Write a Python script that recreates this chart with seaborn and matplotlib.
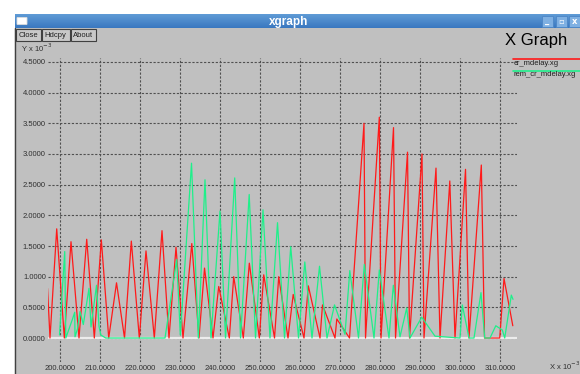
import numpy as np
import pandas as pd
import matplotlib
matplotlib.use("Agg")
import matplotlib.pyplot as plt
from matplotlib.patches import Rectangle, FancyBboxPatch
import seaborn as sns

# ---- data (x in units of 10^-3 s, y in units of 10^-3) ----
red_x = [196.88, 197.5, 199.18, 201.08, 202.75, 204.75, 206.68, 208.58, 210.33, 212.18,
         214.13, 216.13, 217.83, 219.83, 221.5, 223.58, 225.5, 227.25, 229.0, 230.75,
         232.95, 234.75, 236.13, 238.25, 239.68, 242.33, 243.43, 245.83, 247.33, 249.83,
         250.93, 253.63, 254.68, 257.0, 258.3, 261.0, 262.08, 265.0, 265.63, 268.75,
         269.2, 272.38, 276.0, 276.38, 279.83, 280.25, 283.38, 283.88, 286.88, 287.38,
         290.5, 291.0, 294.0, 295.0, 297.45, 298.75, 301.38, 302.25, 305.33, 306.13,
         309.93, 311.0, 313.2]
red_y = [0.81, 0.0, 1.78, 0.0, 1.57, 0.0, 1.61, 0.0, 1.60, 0.0,
         0.90, 0.0, 1.58, 0.0, 1.42, 0.0, 1.75, 0.0, 1.48, 0.0,
         1.54, 0.0, 1.14, 0.0, 0.84, 0.0, 1.00, 0.0, 1.22, 0.0,
         1.03, 0.0, 1.00, 0.0, 0.71, 0.0, 0.85, 0.0, 0.54, 0.0,
         0.31, 0.0, 3.50, 0.0, 3.60, 0.0, 3.43, 0.0, 3.03, 0.0,
         3.00, 0.0, 2.77, 0.0, 2.56, 0.0, 2.75, 0.0, 2.82, 0.0,
         0.0, 0.97, 0.20]

green_x = [199.88, 201.18, 201.45, 203.08, 203.68, 203.75, 204.38, 205.0, 205.83, 207.25,
           207.75, 209.13, 209.75, 210.2, 211.43, 226.25, 229.18, 230.08, 232.88, 234.58,
           236.25, 237.75, 240.0, 241.38, 243.68, 245.13, 247.3, 248.88, 250.75, 252.5,
           254.38, 256.13, 257.68, 259.63, 261.2, 263.0, 264.88, 266.75, 268.63, 271.25,
           272.45, 274.63, 276.08, 278.5, 279.83, 282.25, 283.33, 285.0, 286.68, 287.5,
           290.43, 293.75, 300.0, 300.58, 302.25, 303.5, 305.25, 306.18, 307.5, 308.95,
           310.58, 311.18, 312.83, 313.25]
green_y = [0.05, 1.41, 0.0, 0.30, 0.42, 0.02, 0.15, 0.43, 0.22, 0.81,
           0.18, 0.86, 0.19, 0.05, 0.0, 0.0, 1.28, 0.05, 2.85, 0.0,
           2.58, 0.0, 2.07, 0.0, 2.61, 0.0, 2.34, 0.0, 2.09, 0.0,
           1.88, 0.0, 1.49, 0.0, 1.24, 0.0, 1.17, 0.0, 0.54, 0.06,
           1.10, 0.0, 1.20, 0.0, 1.11, 0.0, 0.86, 0.02, 0.49, 0.0,
           0.34, 0.03, 0.0, 0.54, 0.0, 0.0, 0.74, 0.0, 0.0, 0.20,
           0.13, 0.0, 0.70, 0.63]

series_names = ["cr_mdelay.xg", "rem_cr_mdelay.xg"]
series_colors = ["#ff1a1a", "#1ef08a"]
x_ticks = [200, 210, 220, 230, 240, 250, 260, 270, 280, 290, 300, 310]
y_ticks = [0.0, 0.5, 1.0, 1.5, 2.0, 2.5, 3.0, 3.5, 4.0, 4.5]

df = pd.concat([
    pd.DataFrame({"x": red_x, "y": red_y, "file": series_names[0]}),
    pd.DataFrame({"x": green_x, "y": green_y, "file": series_names[1]}),
], ignore_index=True)

sns.set_style("white")
plt.rcParams["font.family"] = ["Liberation Sans", "DejaVu Sans"]

W, H = 580, 374
fig = plt.figure(figsize=(W / 100, H / 100), dpi=100)
BG = "#c0c0c0"

# ---- window chrome, drawn in pixel coordinates ----
chrome = fig.add_axes([0, 0, 1, 1], zorder=0)
chrome.set_xlim(0, W)
chrome.set_ylim(H, 0)
chrome.axis("off")
chrome.add_patch(Rectangle((0, 0), W, H, color="white", zorder=0))
chrome.add_patch(Rectangle((15, 28), W - 15, H - 28, color=BG, zorder=1))
chrome.plot([14.5, 14.5], [28, H], color="#404040", lw=1, zorder=2)

# title bar gradient
grad = np.linspace(0, 1, 30).reshape(-1, 1)
chrome.imshow(grad, extent=(15, W, 28, 14), cmap=matplotlib.colors.LinearSegmentedColormap.from_list(
    "tb", ["#5f9bd6", "#3a78c0"]), aspect="auto", zorder=2)
chrome.add_patch(FancyBboxPatch((17.5, 18), 9, 6, boxstyle="round,pad=0.5",
                                fc="white", ec="#dddddd", lw=0.6, zorder=3))
chrome.text(289, 21.5, "xgraph", color="white", fontsize=8.5, fontweight="bold",
            ha="center", va="center", zorder=3)
for bx, glyph in zip([542, 556, 569], ["_", "▫", "x"]):
    chrome.add_patch(Rectangle((bx, 16), 11, 11, fc="#7fb0e2", ec="#4d86c6", lw=0.6, zorder=3))
    chrome.text(bx + 5.5, 21.5, glyph, color="white", fontsize=6, fontweight="bold",
                ha="center", va="center", zorder=4, family=["DejaVu Sans"])

# buttons
for (bx0, bx1), label in zip([(15.5, 40.5), (42, 69.5), (71, 96)], ["Close", "Hdcpy", "About"]):
    chrome.add_patch(Rectangle((bx0, 29), bx1 - bx0, 11.5, fc="#c8c8c8", ec="#404040", lw=0.8, zorder=3))
    chrome.text((bx0 + bx1) / 2, 35, label, fontsize=5.5, ha="center", va="center",
                color="#202020", zorder=4)

chrome.text(505, 40, "X Graph", fontsize=12, ha="left", va="center", color="black", zorder=3)
chrome.text(21, 47.5, r"Y x 10$^{-3}$", fontsize=5.5, ha="left", va="center", color="#303030", zorder=3)
chrome.text(549, 366, r"X x 10$^{-3}$", fontsize=5.5, ha="left", va="center", color="#303030", zorder=3)

# legend: sample lines plus names, drawn above the plot grid
for yl, yt, name, col in zip([58.5, 70.5], [63.5, 74.5], series_names, series_colors):
    chrome.plot([513, W], [yl, yl], color=col, lw=1.2, zorder=3)
    fig.text(514 / W, 1 - yt / H, name, fontsize=5.5, ha="left", va="center",
             color="#202020", zorder=5)

# ---- plot area ----
left, right, top, bottom = 48, 517, 58, 362
ax = fig.add_axes([left / W, 1 - bottom / H, (right - left) / W, (bottom - top) / H], zorder=2)
ax.patch.set_alpha(0)

sns.lineplot(data=df, x="x", y="y", hue="file", palette=series_colors,
             hue_order=series_names, estimator=None, sort=False, lw=0.9,
             legend=False, ax=ax, zorder=3)

ax.set_xlim(197.0, 314.25)
ax.set_ylim(-0.391, 4.565)
ax.set_xticks(x_ticks)
ax.set_yticks(y_ticks)
ax.set_xticklabels([f"{v:.4f}" for v in x_ticks])
ax.set_yticklabels([f"{v:.4f}" for v in y_ticks])
ax.tick_params(axis="both", length=0, labelsize=5.5, colors="#303030")
ax.tick_params(axis="y", pad=1.5)
ax.tick_params(axis="x", pad=2)
ax.grid(True, color="#505050", lw=0.8, linestyle=(0, (2, 1.5)), zorder=1)
ax.axhline(0, color="#ececec", lw=1.6, zorder=2)
for s in ax.spines.values():
    s.set_visible(False)
ax.set_xlabel("")
ax.set_ylabel("")

fig.savefig("out.png", dpi=100)
